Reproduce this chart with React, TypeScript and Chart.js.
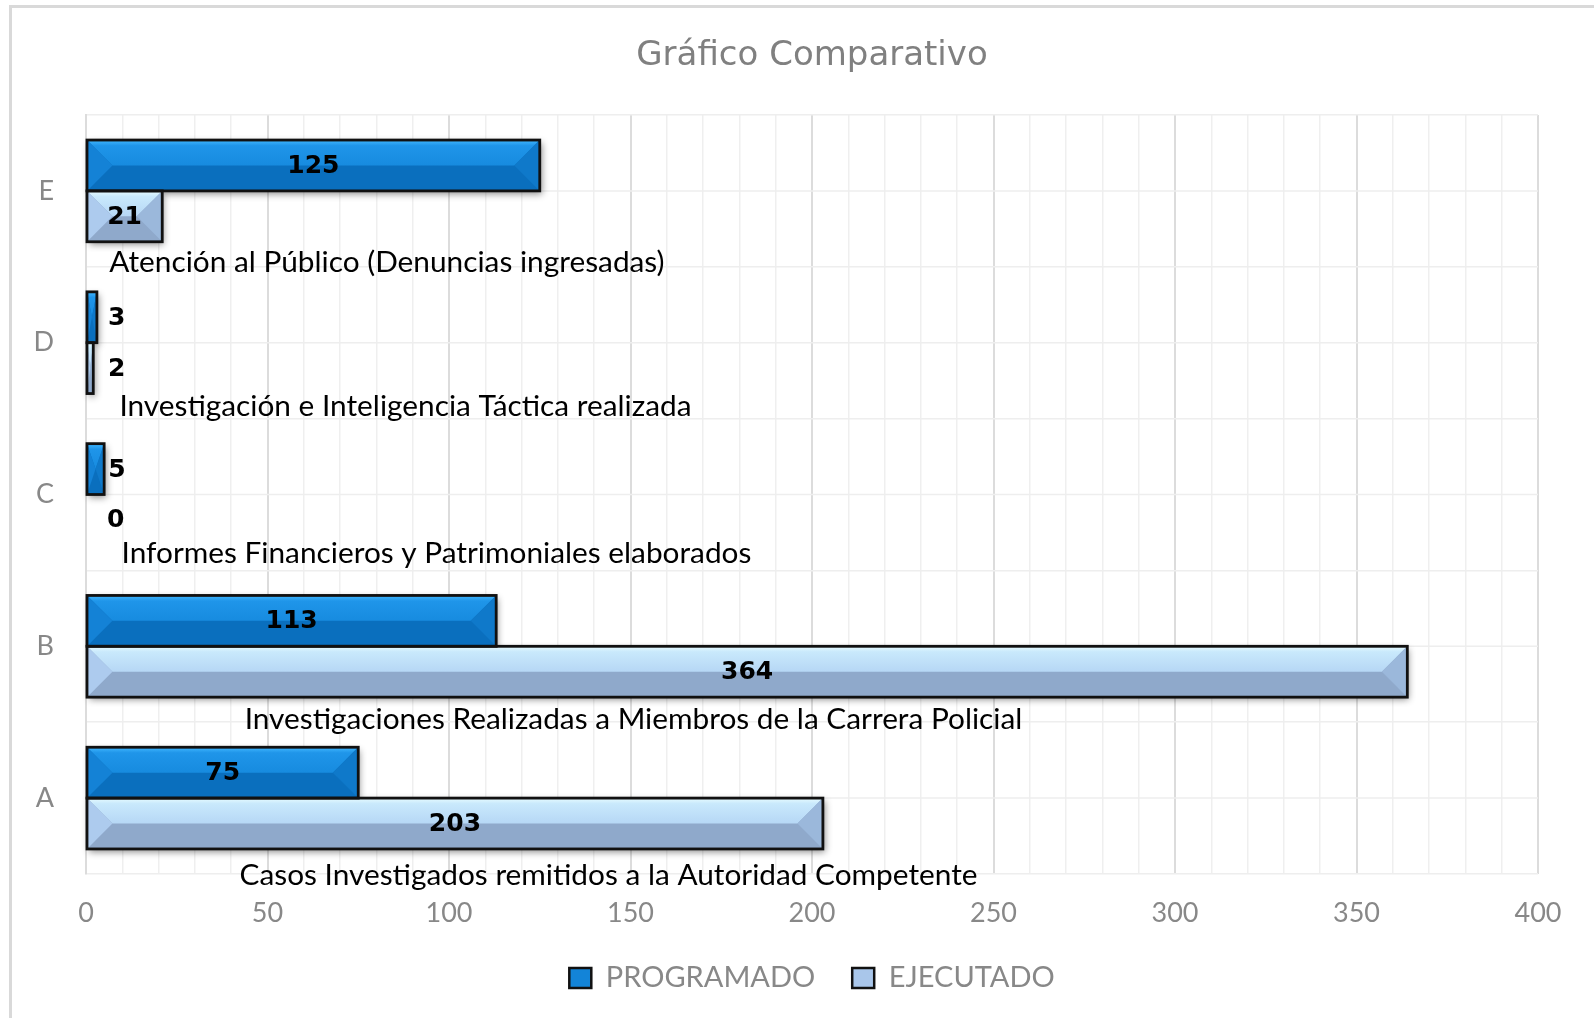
import { useEffect, useRef } from 'react';
import { Chart, registerables } from 'chart.js';

Chart.register(...registerables);

// ---- data ----
const categories = ['E', 'D', 'C', 'B', 'A'];
const descriptions = [
  'Atención al Público (Denuncias ingresadas)',
  'Investigación e Inteligencia Táctica realizada',
  'Informes Financieros y Patrimoniales elaborados',
  'Investigaciones Realizadas a Miembros de la Carrera Policial',
  'Casos Investigados remitidos a la Autoridad Competente',
];
const programado = [125, 3, 5, 113, 75];
const ejecutado = [21, 2, 0, 364, 203];
const seriesNames = ['PROGRAMADO', 'EJECUTADO'];
const titleText = 'Gráfico Comparativo';
const xMin = 0;
const xMax = 400;
const xMajorStep = 50;
const xMinorStep = 10;

// ---- caption layout (left edge in axis units, vertical offset as fraction of band) ----
const captionX = [6.4, 9.2, 9.8, 43.7, 42.3];
const captionDy = [0.47, 0.42, 0.39, 0.48, 0.51];

// ---- styles ----
const bevelStyles = [
  { top: ['#42b8ff', '#1f95e9', '#178bdf'], left: '#1482d6', right: '#0f79ca', bottom: '#0a6fbe', base: '#1384d8' },
  { top: ['#e8fcff', '#c9e9fc', '#b6d7f5'], left: '#adcbee', right: '#9bb8db', bottom: '#8fa9cb', base: '#a9c6ea' },
];
const gray = '#888888';

const framePlugin = {
  id: 'frame',
  beforeDraw(chart: any) {
    const { ctx, width, height } = chart;
    ctx.save();
    ctx.fillStyle = '#ffffff';
    ctx.fillRect(0, 0, width, height);
    ctx.strokeStyle = '#d9d9d9';
    ctx.lineWidth = 3;
    ctx.beginPath();
    ctx.moveTo(10.5, height);
    ctx.lineTo(10.5, 6.5);
    ctx.lineTo(width, 6.5);
    ctx.stroke();
    ctx.restore();
  },
};

const midGridPlugin = {
  id: 'midGrid',
  beforeDatasetsDraw(chart: any) {
    const { ctx, chartArea } = chart;
    const y = chart.scales.y;
    ctx.save();
    ctx.strokeStyle = '#eeeeee';
    ctx.lineWidth = 1.5;
    categories.forEach((_, i) => {
      const py = y.getPixelForValue(i);
      ctx.beginPath();
      ctx.moveTo(chartArea.left, py);
      ctx.lineTo(chartArea.right, py);
      ctx.stroke();
    });
    // category labels of the y scale
    ctx.fillStyle = gray;
    ctx.font = '27px Lato, sans-serif';
    ctx.textAlign = 'right';
    ctx.textBaseline = 'middle';
    categories.forEach((c, i) => {
      ctx.fillText(c, chartArea.left - 32, y.getPixelForValue(i));
    });
    ctx.restore();
  },
};

const bevelPlugin = {
  id: 'bevelBars',
  afterDatasetsDraw(chart: any) {
    const { ctx } = chart;
    const rects: any[] = [];
    chart.data.datasets.forEach((ds: any, di: number) => {
      const meta = chart.getDatasetMeta(di);
      meta.data.forEach((el: any, i: number) => {
        const p = el.getProps(['x', 'y', 'base', 'height'], true);
        const l = Math.min(p.x, p.base);
        const r = Math.max(p.x, p.base);
        const t = p.y - p.height / 2;
        const b = p.y + p.height / 2;
        rects.push({ di, i, l, r, t, b, v: ds.data[i] });
      });
    });
    const drawn = rects.filter((q) => q.v > 0);
    ctx.save();
    // shadows
    drawn.forEach((q) => {
      ctx.save();
      ctx.shadowColor = 'rgba(0,0,0,0.45)';
      ctx.shadowBlur = 7;
      ctx.shadowOffsetX = 2;
      ctx.shadowOffsetY = 3;
      ctx.fillStyle = '#777';
      ctx.fillRect(q.l, q.t, q.r - q.l, q.b - q.t);
      ctx.restore();
    });
    // bevel fills
    drawn.forEach((q) => {
      const s = bevelStyles[q.di];
      const w = q.r - q.l;
      const h = q.b - q.t;
      const m = q.t + h / 2;
      const d = Math.min(h / 2, w / 2);
      ctx.fillStyle = s.bottom;
      ctx.fillRect(q.l, q.t, w, h);
      const g = ctx.createLinearGradient(0, q.t, 0, m);
      g.addColorStop(0, s.top[0]);
      g.addColorStop(0.22, s.top[1]);
      g.addColorStop(1, s.top[2]);
      ctx.fillStyle = g;
      ctx.beginPath();
      ctx.moveTo(q.l, q.t);
      ctx.lineTo(q.r, q.t);
      ctx.lineTo(q.r - d, m);
      ctx.lineTo(q.l + d, m);
      ctx.closePath();
      ctx.fill();
      ctx.fillStyle = s.left;
      ctx.beginPath();
      ctx.moveTo(q.l, q.t);
      ctx.lineTo(q.l + d, m);
      ctx.lineTo(q.l, q.b);
      ctx.closePath();
      ctx.fill();
      ctx.fillStyle = s.right;
      ctx.beginPath();
      ctx.moveTo(q.r, q.t);
      ctx.lineTo(q.r - d, m);
      ctx.lineTo(q.r, q.b);
      ctx.closePath();
      ctx.fill();
    });
    // borders
    ctx.strokeStyle = '#111111';
    ctx.lineWidth = 2.8;
    drawn.forEach((q) => {
      ctx.strokeRect(q.l, q.t, q.r - q.l, q.b - q.t);
    });
    // value labels
    ctx.fillStyle = '#000000';
    ctx.font = 'bold 25px "DejaVu Sans", Verdana, sans-serif';
    ctx.textBaseline = 'middle';
    rects.forEach((q) => {
      const cy = (q.t + q.b) / 2 + 1;
      const txt = String(q.v);
      if (q.r - q.l > 60) {
        ctx.textAlign = 'center';
        ctx.fillText(txt, (q.l + q.r) / 2, cy);
      } else {
        ctx.textAlign = 'left';
        ctx.fillText(txt, Math.max(q.r + 4, q.l + 21), cy);
      }
    });
    // category captions
    const xs = chart.scales.x;
    const ys = chart.scales.y;
    const band = ys.getPixelForValue(1) - ys.getPixelForValue(0);
    ctx.font = '29.8px Lato, "Open Sans", sans-serif';
    ctx.textAlign = 'left';
    ctx.fillStyle = '#000000';
    descriptions.forEach((txt, i) => {
      const px = xs.getPixelForValue(captionX[i]);
      const py = ys.getPixelForValue(i) + captionDy[i] * band;
      ctx.fillText(txt, px, py);
    });
    ctx.restore();
  },
};

export default function App() {
  const canvasRef = useRef<HTMLCanvasElement | null>(null);

  useEffect(() => {
    const canvas = canvasRef.current;
    if (!canvas) return;
    const chart = new Chart(canvas, {
      type: 'bar',
      data: {
        labels: categories,
        datasets: [
          {
            label: seriesNames[0],
            data: programado,
            backgroundColor: bevelStyles[0].base,
            borderColor: '#111111',
            borderWidth: 2.5,
            categoryPercentage: 0.67,
            barPercentage: 1,
          },
          {
            label: seriesNames[1],
            data: ejecutado,
            backgroundColor: bevelStyles[1].base,
            borderColor: '#111111',
            borderWidth: 2.5,
            categoryPercentage: 0.67,
            barPercentage: 1,
          },
        ],
      },
      options: {
        indexAxis: 'y',
        animation: false,
        responsive: true,
        maintainAspectRatio: false,
        layout: { padding: { left: 86, right: 56, top: 0, bottom: 15.5 } },
        plugins: {
          title: {
            display: true,
            text: titleText,
            color: '#808080',
            font: { family: '"DejaVu Sans", sans-serif', size: 34, weight: 'normal' },
            padding: { top: 35.6, bottom: 38.6 },
          },
          legend: {
            position: 'bottom',
            labels: {
              boxWidth: 22,
              boxHeight: 20,
              padding: 37,
              color: gray,
              font: { family: 'Lato, sans-serif', size: 29 },
            },
          },
          tooltip: { enabled: false },
        },
        scales: {
          x: {
            min: xMin,
            max: xMax,
            ticks: {
              stepSize: xMinorStep,
              autoSkip: false,
              maxRotation: 0,
              color: gray,
              padding: 23,
              font: { family: 'Lato, sans-serif', size: 27 },
              callback: (v: any) => (Number(v) % xMajorStep === 0 ? String(v) : ''),
            },
            grid: {
              drawTicks: false,
              color: (c: any) => (c.tick && c.tick.value % xMajorStep === 0 ? '#dcdcdc' : '#efefef'),
              lineWidth: (c: any) => (c.tick && c.tick.value % xMajorStep === 0 ? 2 : 1.5),
            },
            border: { display: false },
            afterFit: (s: any) => {
              s.height = 52.5;
            },
          },
          y: {
            ticks: { display: false },
            grid: { drawTicks: false, color: '#eeeeee', lineWidth: 1.5, offset: true },
            border: { color: '#dcdcdc', width: 2 },
            afterFit: (s: any) => {
              s.width = 0;
            },
          },
        },
      } as any,
      plugins: [framePlugin, midGridPlugin, bevelPlugin],
    });
    return () => chart.destroy();
  }, []);

  return (
    <div style={{ position: 'fixed', left: 0, top: 0, width: '1594px', height: '1018px', background: '#fff' }}>
      <canvas ref={canvasRef} />
    </div>
  );
}
